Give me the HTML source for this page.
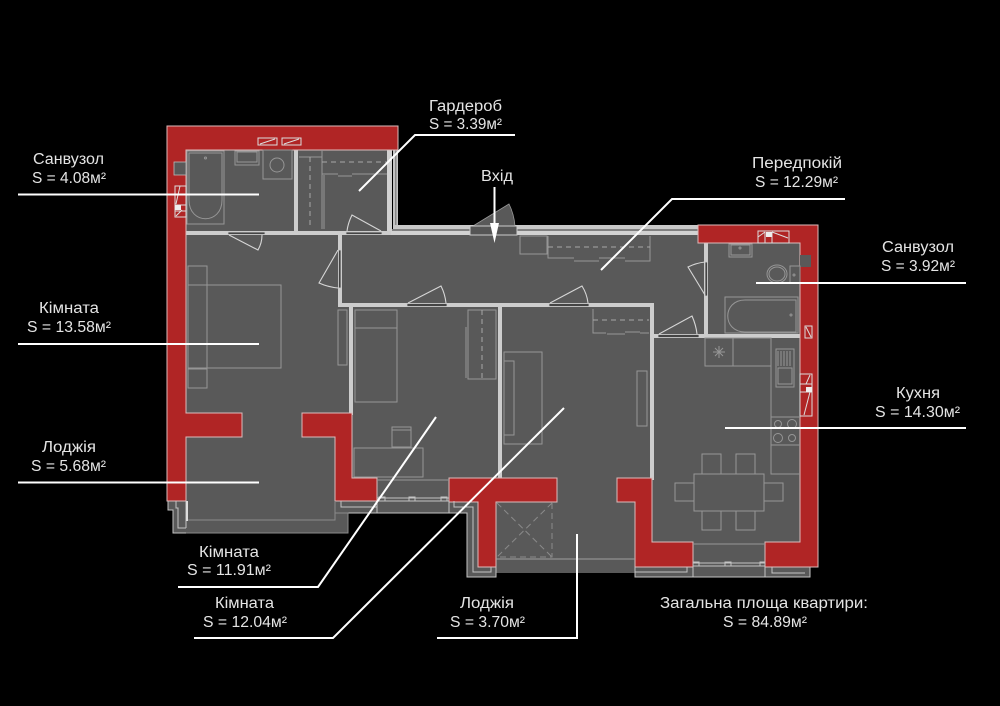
<!DOCTYPE html>
<html><head><meta charset="utf-8"><style>
html,body{margin:0;padding:0;background:#000;width:1000px;height:706px;overflow:hidden}
svg{display:block}
text{font-family:"Liberation Sans",sans-serif;font-size:15.5px;fill:#e4e4e4;text-anchor:start}
.f{fill:none;stroke:#969696;stroke-width:1}
.d{fill:none;stroke:#a8a8a8;stroke-width:1;stroke-dasharray:5 4}
.dr{fill:none;stroke:#d6d6d6;stroke-width:1.1}
.w{fill:#cdcdcd}
.s{fill:#444;stroke:#ccc;stroke-width:.8}
.r{fill:#b02525;stroke:#dcbcbc;stroke-width:1}
.l{fill:none;stroke:#fff;stroke-width:2}
</style></head><body>
<svg width="1000" height="706" viewBox="0 0 1000 706" xmlns="http://www.w3.org/2000/svg">
<rect width="1000" height="706" fill="#000"/>
<!-- floor -->
<path fill="#595959" d="M186 150H387V235H698V243H800V542H765V567H810V577H635V573H496V577H467V513H348V533H173V510H168V501H186Z"/>
<!-- outer corridor wall -->
<rect x="387" y="150" width="5" height="85" fill="#d2d2d2"/>
<rect x="393" y="150" width="5" height="79" fill="#c4c4c4"/>
<rect x="395" y="150" width="1.500" height="77" fill="#8a8a8a"/>
<rect x="393" y="225" width="305" height="4" fill="#c8c8c8"/>
<rect x="392" y="229" width="306" height="2" fill="#808080"/>
<rect x="387" y="231" width="311" height="4" fill="#d2d2d2"/>
<!-- walls -->
<rect class="w" x="186" y="231" width="205" height="4"/>
<rect class="w" x="294" y="150" width="4" height="83"/>
<rect class="w" x="338" y="233" width="4" height="74"/>
<rect class="w" x="338" y="303" width="316" height="4"/>
<rect class="w" x="349" y="305" width="4" height="110"/>
<rect class="w" x="498" y="305" width="4" height="175"/>
<rect class="w" x="650" y="305" width="4" height="175"/>
<rect class="w" x="652" y="334" width="148" height="4"/>
<rect class="w" x="704" y="243" width="4" height="93"/>
<!-- red -->
<path class="r" d="M167 126H398V150H186V413H242V437H186V501H167Z"/>
<path class="r" d="M698 225H818V567H765V542H800V243H698Z"/>
<path class="r" d="M302 413H352V478H377V501H335V437H302Z"/>
<path class="r" d="M449 478H557V502H496V567H478V502H449Z"/>
<path class="r" d="M617 478H652V542H693V567H635V502H617Z"/>
<!-- openings in outer wall, vents -->
<g fill="none" stroke="#ddd" stroke-width="1">
<rect x="258" y="138" width="19" height="7"/><path d="M260 144L275 139"/>
<rect x="282" y="138" width="19" height="7"/><path d="M284 144L299 139"/>
<rect x="175" y="186" width="11" height="31"/><path d="M175 205H186M175 211H186M180 186L176 204M182 210L176 216"/>
<rect x="758" y="231" width="31" height="12"/><path d="M758 237L765 232M772 232L788 238M765 232V243M772 232V243"/>
<rect x="805" y="326" width="7" height="12"/><path d="M806 327L811 337"/>
<rect x="800" y="374" width="12" height="42"/><path d="M800 384H812M800 392H812M810 375L806 384M810 392L804 415"/>
</g>
<rect x="175" y="205" width="6" height="5" fill="#eee"/>
<rect x="766" y="232" width="6" height="5" fill="#eee"/>
<rect x="806" y="387" width="6" height="5" fill="#eee"/>
<rect x="174" y="162" width="12" height="13" fill="#595959" stroke="#bbb" stroke-width=".8"/>
<rect x="800" y="255" width="11" height="12" fill="#595959"/>
<!-- bathroom left -->
<rect class="f" x="187" y="151" width="37" height="73"/>
<path class="f" d="M189 153H222V200C222 225 189 225 189 200Z"/>
<circle class="f" cx="205.500" cy="158" r="1"/>
<rect class="f" x="235" y="151" width="24" height="14"/><rect class="f" x="237" y="152" width="20" height="10"/>
<rect class="f" x="263" y="150" width="29" height="29"/><circle class="f" cx="277" cy="165" r="7"/>
<!-- wardrobe room -->
<path class="f" d="M299 157H322M322 150V175M324 175V229M322 150V229"/>
<path class="d" d="M310 157V229"/>
<path class="d" d="M322 162H387"/>
<path class="f" d="M322 174H338M338 176H352M352 174H365M365 174H387"/>
<!-- bedroom -->
<rect class="f" x="188" y="266" width="19" height="19"/>
<rect class="f" x="188" y="285" width="93" height="83"/>
<path class="f" d="M207 285V368"/>
<rect class="f" x="188" y="369" width="19" height="19"/>
<rect class="f" x="338" y="310" width="9" height="55"/>
<!-- room 2 -->
<rect class="f" x="355" y="310" width="42" height="92"/><path class="f" d="M355 328H397"/>
<rect class="f" x="392" y="427" width="19" height="20"/><path class="f" d="M392 430H411"/>
<rect class="f" x="354" y="448" width="69" height="29"/>
<rect class="f" x="468" y="310" width="28" height="69"/><path class="f" d="M466 327V361M466 361V378"/>
<path class="d" d="M482 310V379"/>
<!-- room 3 -->
<rect class="f" x="504" y="352" width="38" height="92"/>
<rect class="f" x="504" y="361" width="10" height="74"/>
<rect class="f" x="637" y="371" width="10" height="55"/>
<path class="f" d="M593 309V333H606M607 334H625M625 332H640M640 333H649"/>
<path class="d" d="M593 320H649"/>
<!-- hallway -->
<rect class="f" x="520" y="236" width="27" height="18"/>
<path class="f" d="M548 236V258H574M574 261H599M599 258H625M625 261H650V236"/>
<path class="d" d="M548 247H650"/>
<!-- bath right -->
<rect class="f" x="729" y="244" width="23" height="13"/>
<rect class="f" x="731" y="245" width="19" height="10"/>
<ellipse class="f" cx="777" cy="274" rx="10" ry="9"/><ellipse class="f" cx="777" cy="274" rx="8" ry="7"/>
<rect class="f" x="790" y="266" width="10" height="17"/>
<rect class="f" x="725" y="297" width="73" height="36"/>
<path class="f" d="M796 300V332H745C722 332 722 300 745 300Z"/>
<circle class="f" cx="791" cy="315" r="1"/><circle class="f" cx="794" cy="275" r="1"/><circle class="f" cx="740" cy="248" r="1"/>
<!-- kitchen -->
<rect class="f" x="705" y="338" width="66" height="28"/><path class="f" d="M733 338V366"/>
<path class="f" d="M771 338V474H800M771 417H800M771 445H800"/>
<path class="f" d="M713 352H725M719 346V358M715 348L723 356M723 348L715 356"/>
<rect class="f" x="776" y="349" width="18" height="38"/>
<rect class="f" x="778" y="368" width="14" height="16"/>
<path class="f" d="M778 351V366M781 351V366M784 351V366M787 351V366M790 351V366"/>
<circle class="f" cx="778" cy="424" r="3.500"/><circle class="f" cx="792" cy="424" r="4.500"/>
<circle class="f" cx="778" cy="438" r="4.500"/><circle class="f" cx="792" cy="438" r="3.500"/>
<rect class="f" x="694" y="474" width="70" height="37"/>
<rect class="f" x="702" y="454" width="19" height="20"/><rect class="f" x="736" y="454" width="19" height="20"/>
<rect class="f" x="702" y="511" width="19" height="19"/><rect class="f" x="736" y="511" width="19" height="19"/>
<rect class="f" x="675" y="483" width="19" height="18"/><rect class="f" x="764" y="483" width="19" height="18"/>
<!-- recess / windows -->
<path class="f" d="M377 480H449M693 544H765"/>
<g fill="none" stroke="#c4c4c4" stroke-width="1">
<path d="M377 498H449M377 501H449M377 513H449M377 501V513M449 501V513"/>
<path d="M693 563H765M693 566H765M693 577H765M693 567V577M765 567V577"/>
<path d="M635 567V577H693M635 572H687V567"/>
<path d="M765 577H810V567M772 567V573H805"/>
<path d="M335 501V513H377M341 501V507H377"/>
<path d="M449 513H467V577H496V567M454 501V507H473V572H491V567"/>
<path d="M168 501V510H173V533H186M186 501V528"/>
<path d="M176 501V508H178V528H186"/>
<path d="M379 497h6v4h-6zM409 497h6v4h-6zM441 497h6v4h-6zM693 562h6v4h-6zM725 562h6v4h-6zM760 562h5v4h-5z"/>
</g>
<g fill="none" stroke="#8a8a8a" stroke-width="1">
<path d="M186 520H335V501M335 513H348V533H186"/>
<path d="M496 559H635" stroke="#a0a0a0"/>
<path d="M497 503L552 557M552 503L497 557M552 503V557H497" stroke-dasharray="6 4"/>
</g>
<rect x="186" y="501" width="2" height="20" fill="#ddd"/>
<!-- doors -->
<rect class="s" x="228" y="232" width="37" height="2.500"/>
<path class="dr" d="M229 235L258 250Q262 243 262 235"/>
<rect class="s" x="346" y="232" width="36" height="2.500"/>
<path class="dr" d="M381 231L352 215Q348 223 347 231"/>
<rect class="s" x="338.500" y="250" width="2.500" height="38"/>
<path class="dr" d="M338 250L319 283Q328 287 338 288"/>
<path d="M473 226L509 204Q514 214 515 226Z" fill="#595959" stroke="#999" stroke-width=".8"/>
<rect x="470" y="226" width="47" height="9" fill="#555" stroke="#ccc" stroke-width="1"/>
<rect class="s" x="407" y="303.500" width="40" height="3"/>
<path class="dr" d="M408 303L441 286Q445 294 446 303"/>
<rect class="s" x="549" y="303.500" width="40" height="3"/>
<path class="dr" d="M550 303L582 286Q587 294 588 303"/>
<rect class="s" x="705" y="262" width="2.500" height="34"/>
<path class="dr" d="M705 262Q696 263 688 267L705 295"/>
<rect class="s" x="658" y="334.500" width="41" height="3"/>
<path class="dr" d="M659 334L692 316Q696 325 697 334"/>
<!-- leaders -->
<path class="l" d="M18 194.500H259"/>
<path class="l" d="M18 344H259"/>
<path class="l" d="M18 482.500H259"/>
<path class="l" d="M515 135H415L359 191"/>
<path class="l" d="M845 199H672L601 270"/>
<path class="l" d="M966 283H756"/>
<path class="l" d="M966 428H725"/>
<path class="l" d="M178 587H318L436 417"/>
<path class="l" d="M194 638H333L564 408"/>
<path class="l" d="M437 638H577V534"/>
<path class="l" d="M494.500 187V226"/>
<path d="M490 223H499L494.500 243Z" fill="#fff"/>
<!-- labels -->
<text x="33" y="164" textLength="71" lengthAdjust="spacingAndGlyphs">Санвузол</text>
<text x="32" y="183" textLength="74" lengthAdjust="spacingAndGlyphs">S = 4.08м²</text>
<text x="39" y="313" textLength="60" lengthAdjust="spacingAndGlyphs">Кімната</text>
<text x="27" y="332" textLength="84" lengthAdjust="spacingAndGlyphs">S = 13.58м²</text>
<text x="42" y="452" textLength="54" lengthAdjust="spacingAndGlyphs">Лоджія</text>
<text x="31" y="471" textLength="75" lengthAdjust="spacingAndGlyphs">S = 5.68м²</text>
<text x="429" y="111" textLength="73" lengthAdjust="spacingAndGlyphs">Гардероб</text>
<text x="429" y="129" textLength="73" lengthAdjust="spacingAndGlyphs">S = 3.39м²</text>
<text x="481" y="181" textLength="32" lengthAdjust="spacingAndGlyphs">Вхід</text>
<text x="752" y="168" textLength="90" lengthAdjust="spacingAndGlyphs">Передпокій</text>
<text x="755" y="187" textLength="83" lengthAdjust="spacingAndGlyphs">S = 12.29м²</text>
<text x="882" y="252" textLength="72" lengthAdjust="spacingAndGlyphs">Санвузол</text>
<text x="881" y="271" textLength="74" lengthAdjust="spacingAndGlyphs">S = 3.92м²</text>
<text x="896" y="398" textLength="44" lengthAdjust="spacingAndGlyphs">Кухня</text>
<text x="875" y="417" textLength="85" lengthAdjust="spacingAndGlyphs">S = 14.30м²</text>
<text x="199" y="557" textLength="60" lengthAdjust="spacingAndGlyphs">Кімната</text>
<text x="187" y="575" textLength="84" lengthAdjust="spacingAndGlyphs">S = 11.91м²</text>
<text x="215" y="608" textLength="59" lengthAdjust="spacingAndGlyphs">Кімната</text>
<text x="203" y="627" textLength="84" lengthAdjust="spacingAndGlyphs">S = 12.04м²</text>
<text x="460" y="608" textLength="54" lengthAdjust="spacingAndGlyphs">Лоджія</text>
<text x="450" y="627" textLength="75" lengthAdjust="spacingAndGlyphs">S = 3.70м²</text>
<text x="660" y="608" textLength="208" lengthAdjust="spacingAndGlyphs">Загальна площа квартири:</text>
<text x="723" y="627" textLength="84" lengthAdjust="spacingAndGlyphs">S = 84.89м²</text>
</svg>
</body></html>
